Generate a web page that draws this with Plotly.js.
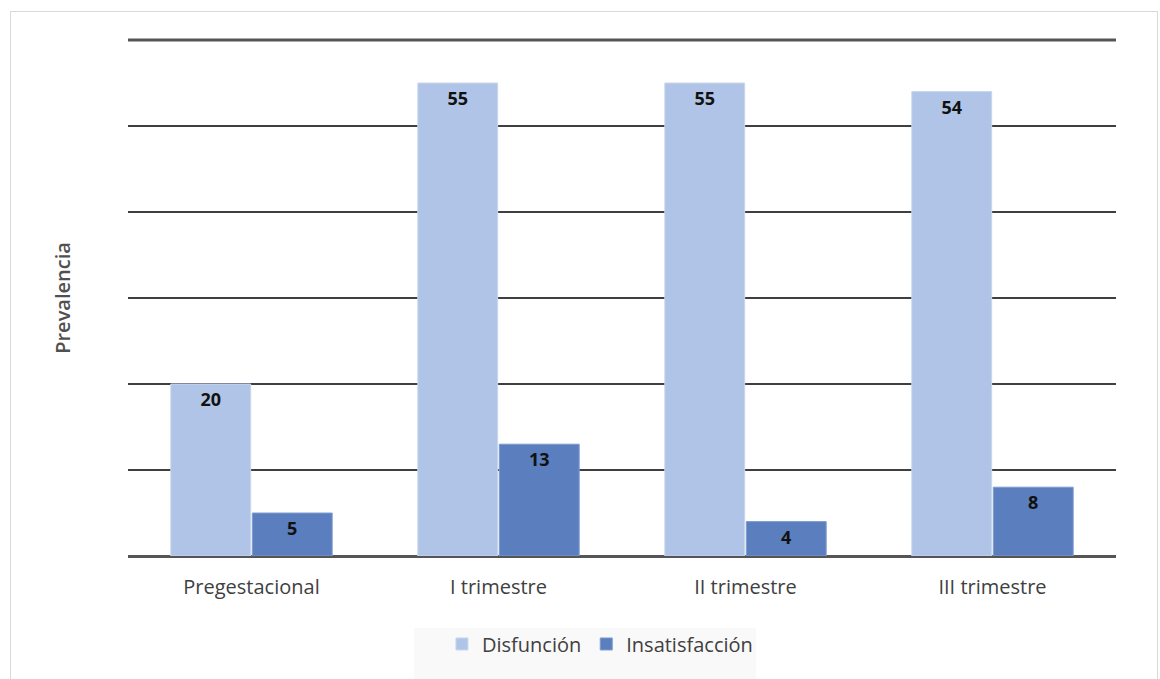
<!DOCTYPE html>
<html>
<head>
<meta charset="utf-8">
<script src="https://cdn.plot.ly/plotly-3.0.1.min.js"></script>
<style>
  html, body { margin: 0; padding: 0; background: #fff; }
  #frame { position: absolute; left: 10px; top: 11px; width: 1148px; height: 700px; border: 1px solid #D9D9D9; box-sizing: border-box; }
  #chart { position: absolute; left: 0; top: 0; width: 1160px; height: 679px; }
</style>
</head>
<body>
<div id="frame"></div>
<div id="chart"></div>
<script>
// Prevalence by stage of pregnancy
const categories = ['Pregestacional', 'I trimestre', 'II trimestre', 'III trimestre'];
const disfuncion = [20, 55, 55, 54];
const insatisfaccion = [5, 13, 4, 8];
const yMax = 60;

const labelFont = { family: 'Open Sans, sans-serif', size: 18, color: '#111', weight: 'bold' };

const traces = [
  {
    type: 'bar', name: 'Disfunción', x: categories, y: disfuncion,
    text: disfuncion.map(String), textposition: 'inside', insidetextanchor: 'end',
    textfont: labelFont, textangle: 0,
    marker: { color: '#AFC4E6', line: { color: '#C9D7EE', width: 1 } },
    hoverinfo: 'x+y'
  },
  {
    type: 'bar', name: 'Insatisfacción', x: categories, y: insatisfaccion,
    text: insatisfaccion.map(String), textposition: 'inside', insidetextanchor: 'end',
    textfont: labelFont, textangle: 0,
    marker: { color: '#5A7EBE', line: { color: '#7E9BCF', width: 1 } },
    hoverinfo: 'x+y'
  }
];

const layout = {
  width: 1160, height: 679,
  margin: { l: 128, r: 44, t: 40, b: 123 },
  paper_bgcolor: 'rgba(0,0,0,0)',
  plot_bgcolor: 'rgba(0,0,0,0)',
  barmode: 'group',
  bargap: 0.34,
  bargroupgap: 0.02,
  font: { family: 'Open Sans, sans-serif', color: '#404040' },
  xaxis: {
    type: 'category', automargin: false,
    showgrid: false, zeroline: false, showline: false,
    ticks: '', ticklabelstandoff: 17,
    tickfont: { size: 20, color: '#404040' }
  },
  yaxis: {
    range: [0, yMax], dtick: 10, automargin: false,
    showticklabels: false, ticks: '',
    showgrid: true, gridcolor: '#3F3F3F', gridwidth: 2,
    zeroline: true, zerolinecolor: '#555555', zerolinewidth: 3,
    showline: false
  },
  shapes: [
    {
      // legend panel
      type: 'rect', xref: 'paper', yref: 'paper', layer: 'below',
      x0: 0.2895, x1: 0.6356, y0: -0.1395, y1: -0.24,
      fillcolor: '#F9F9F9', line: { width: 0 }
    },
    {
      // gridline along the top edge of the plot area
      type: 'line', xref: 'paper', yref: 'paper', layer: 'below',
      x0: 0, x1: 1, y0: 1, y1: 1,
      line: { color: '#555555', width: 3 }
    }
  ],
  annotations: [{
    text: 'Prevalencia', textangle: -90,
    xref: 'paper', yref: 'paper', x: -0.067, y: 0.5,
    xanchor: 'center', yanchor: 'middle', showarrow: false,
    font: { size: 20, color: '#505050', weight: 600 }
  }],
  legend: {
    orientation: 'h', x: 0.4777, y: -0.1705, xanchor: 'center', yanchor: 'middle',
    bgcolor: 'rgba(0,0,0,0)', font: { size: 20, color: '#404040' },
    itemwidth: 30, tracegroupgap: 0
  },
  showlegend: true
};

Plotly.newPlot('chart', traces, layout, { displayModeBar: false, staticPlot: true });
</script>
</body>
</html>
